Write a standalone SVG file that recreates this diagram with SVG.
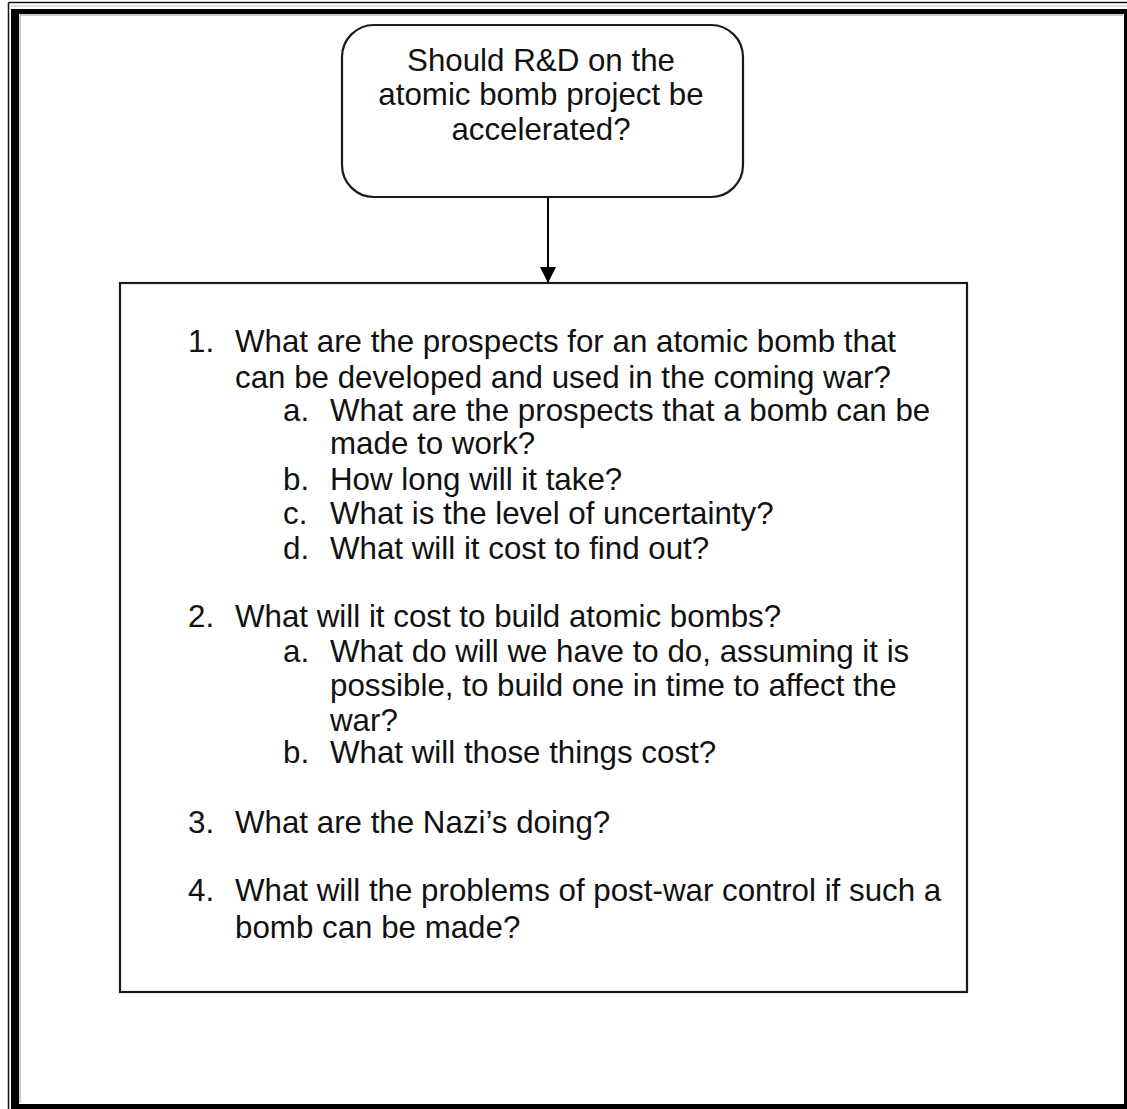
<svg xmlns="http://www.w3.org/2000/svg" width="1127" height="1109" viewBox="0 0 1127 1109">
<style>
  .t { font-family: "Liberation Sans", Arial, Helvetica, sans-serif; font-size: 31.3px; fill: #111; }
  .c { text-anchor: middle; }
  .box { fill: #fff; stroke: #1a1a1a; stroke-width: 2.2; }
  .frame { fill: #000; }
</style>
<defs>
  <marker id="arr" markerWidth="16" markerHeight="16" refX="16" refY="8" orient="auto" markerUnits="userSpaceOnUse" viewBox="0 0 16 16">
    <path d="M0,0 L16,8 L0,16 Z" fill="#000"/>
  </marker>
</defs>
<rect width="1127" height="1109" fill="#fff"/>
<g id="frame">
  <line x1="8.5" y1="2.5" x2="8.5" y2="1109" stroke="#111" stroke-width="1.5"/>
  <line x1="8.5" y1="2.5" x2="1127" y2="2.5" stroke="#111" stroke-width="1.5"/>
  <line x1="11" y1="6" x2="1127" y2="6" stroke="#bbb" stroke-width="1"/>
  <rect class="frame" x="11" y="9" width="8" height="1100"/>
  <rect class="frame" x="11" y="9" width="1116" height="5"/>
  <rect class="frame" x="1124" y="9" width="3" height="1100"/>
  <rect class="frame" x="11" y="1104" width="1116" height="5"/>
  <line x1="20" y1="15" x2="1123" y2="15" stroke="#999" stroke-width="1"/>
  <line x1="20" y1="15" x2="20" y2="1103" stroke="#999" stroke-width="1"/>
</g>
<g id="connectors">
  <line x1="548" y1="197" x2="548" y2="283" stroke="#000" stroke-width="2" marker-end="url(#arr)"/>
</g>
<g id="question">
  <rect class="box" x="342" y="25" width="401" height="172" rx="32" ry="32"/>
  <text class="t c" x="541" y="71">Should R&amp;D on the</text>
  <text class="t c" x="541" y="105">atomic bomb project be</text>
  <text class="t c" x="541" y="140">accelerated?</text>
</g>
<g id="subquestions">
  <rect class="box" x="120" y="283" width="847" height="709"/>
  <text class="t" x="188" y="352">1.</text>
  <text class="t" x="235" y="352">What are the prospects for an atomic bomb that</text>
  <text class="t" x="235" y="388">can be developed and used in the coming war?</text>
  <text class="t" x="283" y="421">a.</text>
  <text class="t" x="330" y="421">What are the prospects that a bomb can be</text>
  <text class="t" x="330" y="454">made to work?</text>
  <text class="t" x="283" y="490">b.</text>
  <text class="t" x="330" y="490">How long will it take?</text>
  <text class="t" x="283" y="524">c.</text>
  <text class="t" x="330" y="524">What is the level of uncertainty?</text>
  <text class="t" x="283" y="559">d.</text>
  <text class="t" x="330" y="559">What will it cost to find out?</text>
  <text class="t" x="188" y="627">2.</text>
  <text class="t" x="235" y="627">What will it cost to build atomic bombs?</text>
  <text class="t" x="283" y="662">a.</text>
  <text class="t" x="330" y="662">What do will we have to do, assuming it is</text>
  <text class="t" x="330" y="696">possible, to build one in time to affect the</text>
  <text class="t" x="330" y="731">war?</text>
  <text class="t" x="283" y="763">b.</text>
  <text class="t" x="330" y="763">What will those things cost?</text>
  <text class="t" x="188" y="833">3.</text>
  <text class="t" x="235" y="833">What are the Nazi’s doing?</text>
  <text class="t" x="188" y="901">4.</text>
  <text class="t" x="235" y="901">What will the problems of post-war control if such a</text>
  <text class="t" x="235" y="938">bomb can be made?</text>
</g>
</svg>
